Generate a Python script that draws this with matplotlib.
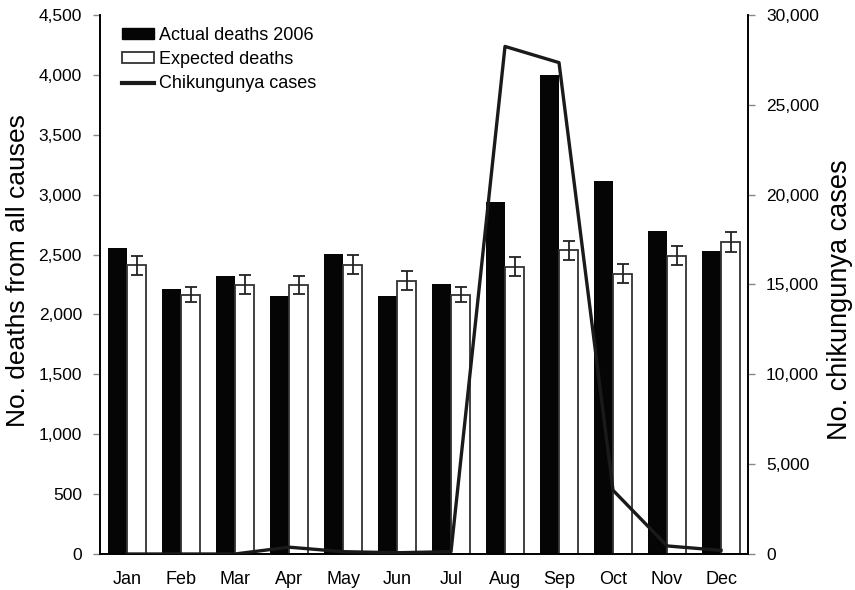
import matplotlib.pyplot as plt
import numpy as np
from matplotlib.ticker import FuncFormatter, MultipleLocator
from matplotlib.patches import Patch
from matplotlib.lines import Line2D

plt.rcParams['font.family'] = ['Liberation Sans', 'DejaVu Sans']

months = ['Jan', 'Feb', 'Mar', 'Apr', 'May', 'Jun',
          'Jul', 'Aug', 'Sep', 'Oct', 'Nov', 'Dec']
actual_deaths = [2555, 2210, 2325, 2155, 2505, 2155, 2255, 2935, 4000, 3115, 2695, 2530]
expected_deaths = [2410, 2165, 2250, 2245, 2415, 2280, 2165, 2400, 2535, 2340, 2490, 2605]
expected_err = [80, 60, 78, 75, 80, 80, 60, 80, 80, 80, 80, 85]
chik_cases = [0, 0, 0, 380, 130, 70, 130, 28250, 27350, 3550, 450, 200]

x = np.arange(len(months))
w = 0.36

fig = plt.figure(figsize=(8.55, 5.9), dpi=100)
ax = fig.add_axes([100 / 855, 36 / 590, 648 / 855, 539 / 590])

ax.bar(x - w / 2, actual_deaths, w, color='#050505', zorder=2)
ax.bar(x + w / 2, expected_deaths, w, color='white', edgecolor='#333333',
       linewidth=1.3, zorder=2)
ax.errorbar(x + w / 2, expected_deaths, yerr=expected_err, fmt='none',
            ecolor='#222222', elinewidth=1.3, capsize=4, capthick=1.3, zorder=3)

ax.set_xlim(-0.5, len(months) - 0.5)
ax.set_ylim(0, 4500)
ax.yaxis.set_major_locator(MultipleLocator(500))
ax.yaxis.set_major_formatter(FuncFormatter(lambda v, p: f'{v:,.0f}'))
ax.set_xticks(x)
ax.set_xticklabels(months)
ax.tick_params(axis='x', length=0, pad=12, labelsize=13)
ax.tick_params(axis='y', length=5, width=1, color='#888888', pad=8, labelsize=12.5)
ax.set_ylabel('No. deaths from all causes', fontsize=19)
ax.yaxis.set_label_coords(-0.108, 0.525)

for s in ['top', 'right']:
    ax.spines[s].set_visible(False)
for s in ['left', 'bottom']:
    ax.spines[s].set_linewidth(1.4)
    ax.spines[s].set_color('black')

# chikungunya cases on the secondary axis, drawn over the bars
ax2 = ax.twinx()
ax2.plot(x, chik_cases, color='#1a1a1a', linewidth=2.4, zorder=4)
ax2.set_ylim(0, 30000)
ax2.yaxis.set_major_locator(MultipleLocator(5000))
ax2.yaxis.set_major_formatter(FuncFormatter(lambda v, p: f'{v:,.0f}'))
ax2.tick_params(axis='y', length=5, width=1, color='#888888', pad=8, labelsize=12.5)
ax2.set_ylabel('No. chikungunya cases', fontsize=19.5)
ax2.yaxis.set_label_coords(1.122, 0.471)
for s in ['top', 'left', 'bottom']:
    ax2.spines[s].set_visible(False)
ax2.spines['right'].set_linewidth(1.4)
ax2.spines['right'].set_color('black')

handles = [
    Patch(facecolor='#050505', edgecolor='#050505'),
    Patch(facecolor='white', edgecolor='#333333', linewidth=1.3),
    Line2D([0], [0], color='#1a1a1a', linewidth=3),
]
labels = ['Actual deaths 2006', 'Expected deaths', 'Chikungunya cases']
ax2.legend(handles, labels, loc='upper left',
           bbox_to_anchor=(122 / 855, 1 - 27 / 590), bbox_transform=fig.transFigure,
           frameon=False, fontsize=13, borderpad=0, borderaxespad=0,
           handlelength=1.75, handleheight=0.55, handletextpad=0.3,
           labelspacing=0.4)

fig.savefig('out.png', dpi=100)
